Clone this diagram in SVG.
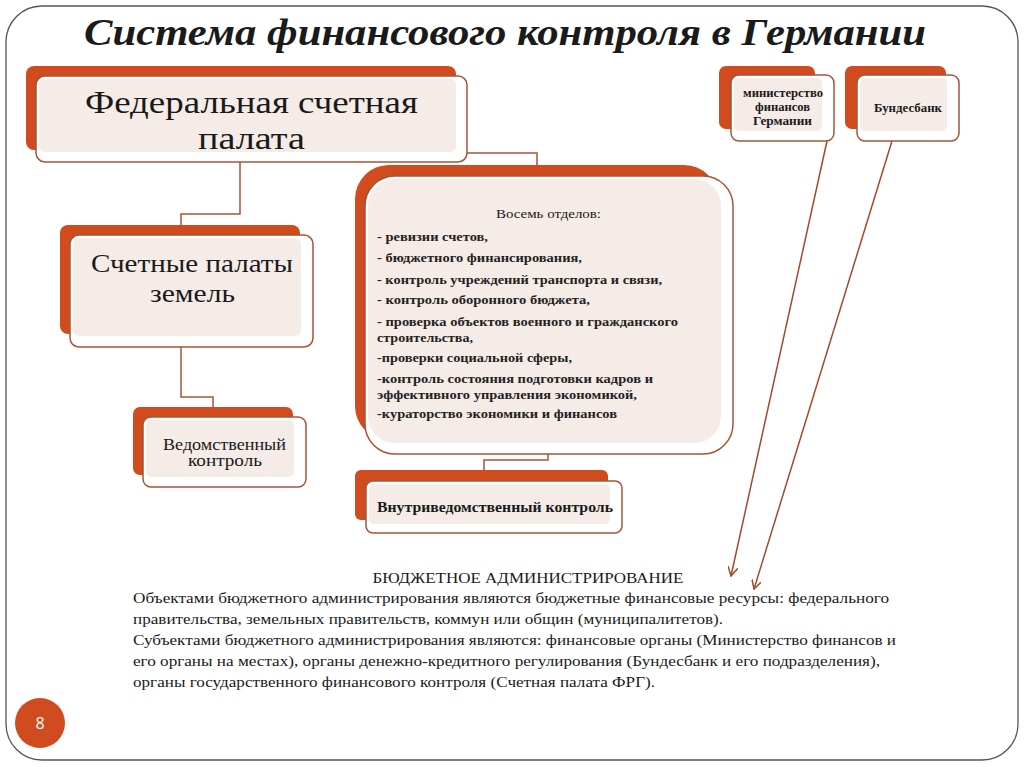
<svg xmlns="http://www.w3.org/2000/svg" width="1024" height="767" viewBox="0 0 1024 767">
<style>
.back{fill:#d04b1d}
.front{fill:#ffffff;stroke:#a55536;stroke-width:1.5}
.inner{fill:#f5ebe7}
.conn{fill:none;stroke:#a55536;stroke-width:1.5}
.arr{fill:none;stroke:#a24a2a;stroke-width:1.5}
.serif{font-family:"Liberation Serif","DejaVu Serif",serif;fill:#1a1a1a}
.dept{font-family:"Liberation Serif","DejaVu Serif",serif;font-weight:bold;font-size:13px;fill:#222}
.body{font-family:"Liberation Serif","DejaVu Serif",serif;font-size:15.5px;fill:#1a1a1a}
</style>
<defs>
<marker id="ah" viewBox="0 0 10 10" refX="9" refY="5" markerWidth="10" markerHeight="10" markerUnits="userSpaceOnUse" orient="auto">
<path d="M0,0 L9,5 L0,10" fill="none" stroke="#a24a2a" stroke-width="1.5"/>
</marker>
</defs>
<rect x="0" y="0" width="1024" height="767" fill="#ffffff"/>
<rect x="6" y="6" width="1012" height="754" rx="36" fill="none" stroke="#555" stroke-width="1.3"/>
<text x="505" y="45" text-anchor="middle" class="serif" font-size="38" font-weight="bold" font-style="italic" textLength="842" lengthAdjust="spacingAndGlyphs">Система финансового контроля в Германии</text>

<g id="connectors">
<path class="conn" d="M240,162 V214 H181 V228"/>
<path class="conn" d="M467,153 H537 V166"/>
<path class="conn" d="M181,347 V397 H213 V410"/>
<path class="conn" d="M548,454 V460 H484 V471"/>
<line class="arr" x1="827" y1="141" x2="731" y2="576" marker-end="url(#ah)"/>
<line class="arr" x1="892" y1="141" x2="754" y2="589" marker-end="url(#ah)"/>
</g>

<g id="federal">
<rect class="back" x="26" y="66" width="430" height="84" rx="8"/>
<rect class="front" x="36" y="76" width="431" height="86" rx="9"/>
<rect class="inner" x="39" y="79" width="417" height="73" rx="6"/>
<text x="85" y="113" class="serif" font-size="32" textLength="333" lengthAdjust="spacingAndGlyphs">Федеральная счетная</text>
<text x="198" y="149" class="serif" font-size="32" textLength="107" lengthAdjust="spacingAndGlyphs">палата</text>
</g>

<g id="lands">
<rect class="back" x="60" y="225" width="240" height="109" rx="8"/>
<rect class="front" x="70" y="235" width="243" height="112" rx="9"/>
<rect class="inner" x="73" y="238" width="228" height="98" rx="6"/>
<text x="91" y="272" class="serif" font-size="26" textLength="202" lengthAdjust="spacingAndGlyphs">Счетные палаты</text>
<text x="150" y="302" class="serif" font-size="26" textLength="85" lengthAdjust="spacingAndGlyphs">земель</text>
</g>

<g id="vedom">
<rect class="back" x="133" y="407" width="160" height="68" rx="7"/>
<rect class="front" x="143" y="417" width="163" height="70" rx="8"/>
<rect class="inner" x="146" y="420" width="148" height="57" rx="5"/>
<text x="163" y="450" class="serif" font-size="16" textLength="123" lengthAdjust="spacingAndGlyphs">Ведомственный</text>
<text x="188" y="466" class="serif" font-size="16" textLength="74" lengthAdjust="spacingAndGlyphs">контроль</text>
</g>

<g id="eight">
<rect class="back" x="355" y="165" width="363" height="275" rx="34"/>
<rect class="front" x="365" y="176" width="368" height="278" rx="30"/>
<rect class="inner" x="368" y="179" width="353" height="264" rx="27"/>
<text x="496" y="218" class="serif" font-size="13" textLength="105" lengthAdjust="spacingAndGlyphs">Восемь отделов:</text>
<text x="377" y="241" class="dept" textLength="111" lengthAdjust="spacingAndGlyphs">- ревизии счетов,</text>
<text x="377" y="262" class="dept" textLength="205" lengthAdjust="spacingAndGlyphs">- бюджетного финансирования,</text>
<text x="377" y="284" class="dept" textLength="285" lengthAdjust="spacingAndGlyphs">- контроль учреждений транспорта и связи,</text>
<text x="377" y="304" class="dept" textLength="213" lengthAdjust="spacingAndGlyphs">- контроль оборонного бюджета,</text>
<text x="377" y="326" class="dept" textLength="301" lengthAdjust="spacingAndGlyphs">- проверка объектов военного и гражданского</text>
<text x="377" y="342" class="dept" textLength="96" lengthAdjust="spacingAndGlyphs">строительства,</text>
<text x="377" y="362" class="dept" textLength="195" lengthAdjust="spacingAndGlyphs">-проверки социальной сферы,</text>
<text x="377" y="383" class="dept" textLength="276" lengthAdjust="spacingAndGlyphs">-контроль состояния подготовки кадров и</text>
<text x="377" y="399" class="dept" textLength="260" lengthAdjust="spacingAndGlyphs">эффективного управления экономикой,</text>
<text x="377" y="418" class="dept" textLength="240" lengthAdjust="spacingAndGlyphs">-кураторство экономики и финансов</text>
</g>

<g id="vnutri">
<rect class="back" x="355" y="470" width="253" height="50" rx="6"/>
<rect class="front" x="366" y="481" width="256" height="52" rx="7"/>
<rect class="inner" x="369" y="484" width="241" height="40" rx="5"/>
<text x="377" y="512" class="serif" font-size="14" font-weight="bold" textLength="236" lengthAdjust="spacingAndGlyphs">Внутриведомственный контроль</text>
</g>

<g id="ministry">
<rect class="back" x="719" y="66" width="96" height="63" rx="7"/>
<rect class="front" x="731" y="75" width="103" height="66" rx="8"/>
<rect class="inner" x="734" y="78" width="88" height="53" rx="5"/>
<text x="743" y="97" class="serif" font-size="11.5" font-weight="bold" textLength="80" lengthAdjust="spacingAndGlyphs">министерство</text>
<text x="755" y="111" class="serif" font-size="11.5" font-weight="bold" textLength="55" lengthAdjust="spacingAndGlyphs">финансов</text>
<text x="753" y="125" class="serif" font-size="11.5" font-weight="bold" textLength="59" lengthAdjust="spacingAndGlyphs">Германии</text>
</g>

<g id="bundesbank">
<rect class="back" x="845" y="66" width="101" height="63" rx="7"/>
<rect class="front" x="857" y="75" width="102" height="66" rx="8"/>
<rect class="inner" x="860" y="78" width="87" height="53" rx="5"/>
<text x="874" y="112" class="serif" font-size="11.5" font-weight="bold" textLength="68" lengthAdjust="spacingAndGlyphs">Бундесбанк</text>
</g>

<g id="budget-text">
<text x="528" y="583" text-anchor="middle" class="body" textLength="311" lengthAdjust="spacingAndGlyphs">БЮДЖЕТНОЕ АДМИНИСТРИРОВАНИЕ</text>
<text x="133" y="603" class="body" textLength="756" lengthAdjust="spacingAndGlyphs">Объектами бюджетного администрирования являются бюджетные финансовые ресурсы: федерального</text>
<text x="133" y="624" class="body" textLength="590" lengthAdjust="spacingAndGlyphs">правительства, земельных правительств, коммун или общин (муниципалитетов).</text>
<text x="133" y="645" class="body" textLength="763" lengthAdjust="spacingAndGlyphs">Субъектами бюджетного администрирования являются: финансовые органы (Министерство финансов и</text>
<text x="133" y="666" class="body" textLength="747" lengthAdjust="spacingAndGlyphs">его органы на местах), органы денежно-кредитного регулирования (Бундесбанк и его подразделения),</text>
<text x="133" y="687" class="body" textLength="522" lengthAdjust="spacingAndGlyphs">органы государственного финансового контроля (Счетная палата ФРГ).</text>
</g>

<g id="page">
<circle cx="40" cy="723" r="25" fill="#d04b1d"/>
<text x="40" y="729" text-anchor="middle" font-family="Open Sans, Liberation Sans, sans-serif" font-size="16" fill="#ffffff">8</text>
</g>
</svg>
